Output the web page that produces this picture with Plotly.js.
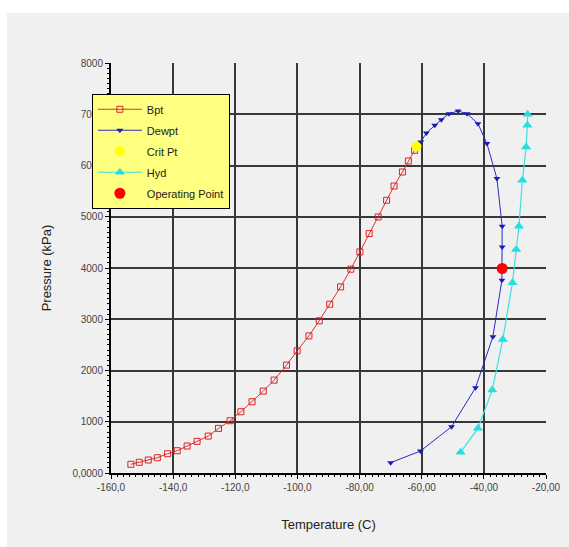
<!DOCTYPE html>
<html>
<head>
<meta charset="utf-8">
<script src="https://cdn.plot.ly/plotly-3.0.1.min.js"></script>
<style>
html,body{margin:0;padding:0;background:#ffffff;}
#chart{position:absolute;left:7px;top:13px;width:562px;height:534px;}
</style>
</head>
<body>
<div id="chart"></div>
<script>
// Bubble point curve
var bptT = [-153.6,-150.9,-148.0,-145.1,-141.8,-138.7,-135.5,-132.3,-128.7,-125.4,-121.7,-118.2,-114.6,-111.0,-107.5,-103.5,-100.1,-96.3,-93.0,-89.6,-86.1,-82.8,-79.9,-76.9,-74.0,-71.3,-68.9,-66.2,-64.3,-62.3];
var bptP = [170,209,253,298,376,435,526,618,721,871,1020,1195,1390,1598,1813,2105,2384,2676,2969,3294,3632,3977,4314,4672,4996,5322,5600,5873,6088,6296];
// Dew point curve
var dewT = [-61.7,-60.3,-58.5,-55.8,-53.7,-51.2,-48.3,-45.4,-41.9,-39.0,-35.8,-34.1,-34.1,-34.2,-37.1,-42.7,-50.4,-60.4,-70.0];
var dewP = [6370,6458,6634,6784,6895,7012,7062,7012,6817,6427,5745,4815,4411,3762,2657,1663,903,429,201];
// Critical point
var critT = [-61.7];
var critP = [6370];
// Hydrate curve
var hydT = [-47.5,-41.9,-37.3,-33.9,-30.8,-29.6,-28.7,-27.6,-26.4,-26.0,-25.9];
var hydP = [403,871,1618,2606,3710,4360,4815,5711,6361,6784,7000];
// Operating point
var opT = [-34.1];
var opP = [3990];
// Tick labels
var xTickVals = [-160,-140,-120,-100,-80,-60,-40,-20];
var xTickText = ["-160,0","-140,0","-120,0","-100,0","-80,00","-60,00","-40,00","-20,00"];
var yTickVals = [0,1000,2000,3000,4000,5000,6000,7000,8000];
var yTickText = ["0,0000","1000","2000","3000","4000","5000","6000","7000","8000"];

var traces = [
  {x: bptT, y: bptP, name: 'Bpt', mode: 'lines+markers', legendgroup: 'a',
   line: {color: '#e03030', width: 1},
   marker: {symbol: 'square-open', size: 6, color: '#e02020', line: {width: 1, color: '#e02020'}}},
  {x: dewT, y: dewP, name: 'Dewpt', mode: 'lines+markers', legendgroup: 'b',
   line: {color: '#2a2ac8', width: 1},
   marker: {symbol: 'triangle-down', size: 6, color: '#1a1ab8'}},
  {x: critT, y: critP, name: 'Crit Pt', mode: 'markers', legendgroup: 'c',
   marker: {symbol: 'circle', size: 10, color: '#ffff00'}},
  {x: hydT, y: hydP, name: 'Hyd', mode: 'lines+markers', legendgroup: 'd',
   line: {color: '#40e0e0', width: 1.2},
   marker: {symbol: 'triangle-up', size: 9, color: '#20e0e0'}},
  {x: opT, y: opP, name: 'Operating Point', mode: 'markers', legendgroup: 'e',
   marker: {symbol: 'circle', size: 11, color: '#ff0000'}}
];

var layout = {
  width: 562, height: 534,
  paper_bgcolor: '#f0f0f0', plot_bgcolor: '#f0f0f0',
  margin: {l: 104, r: 23, t: 50, b: 74},
  font: {family: 'Arial, Liberation Sans, sans-serif', color: '#333333', size: 10},
  showlegend: true,
  legend: {x: -0.044, y: 0.925, xanchor: 'left', yanchor: 'top',
    bgcolor: '#ffff80', bordercolor: '#000000', borderwidth: 1,
    font: {size: 11, color: '#222222'}, traceorder: 'grouped', tracegroupgap: 2,
    itemwidth: 44},
  xaxis: {range: [-160, -20], tickvals: xTickVals, ticktext: xTickText,
    showgrid: true, gridcolor: '#383838', gridwidth: 2,
    showline: true, linecolor: '#000000', linewidth: 2,
    ticks: 'outside', ticklen: 4, tickcolor: '#000000',
    minor: {dtick: 2, ticks: 'outside', ticklen: 2, tickcolor: '#000000', showgrid: false},
    zeroline: false,
    tickfont: {size: 10, color: '#444444'},
    title: {text: 'Temperature (C)', font: {size: 13, color: '#222222'}, standoff: 28}},
  yaxis: {range: [0, 8000], tickvals: yTickVals, ticktext: yTickText,
    showgrid: true, gridcolor: '#383838', gridwidth: 2,
    showline: true, linecolor: '#000000', linewidth: 2,
    ticks: 'outside', ticklen: 4, tickcolor: '#000000',
    minor: {dtick: 100, ticks: 'outside', ticklen: 2, tickcolor: '#000000', showgrid: false},
    zeroline: false,
    tickfont: {size: 10, color: '#444444'},
    title: {text: 'Pressure (kPa)', font: {size: 13, color: '#222222'}, standoff: 18}}
};

Plotly.newPlot('chart', traces, layout, {displayModeBar: false, staticPlot: true});
</script>
</body>
</html>
